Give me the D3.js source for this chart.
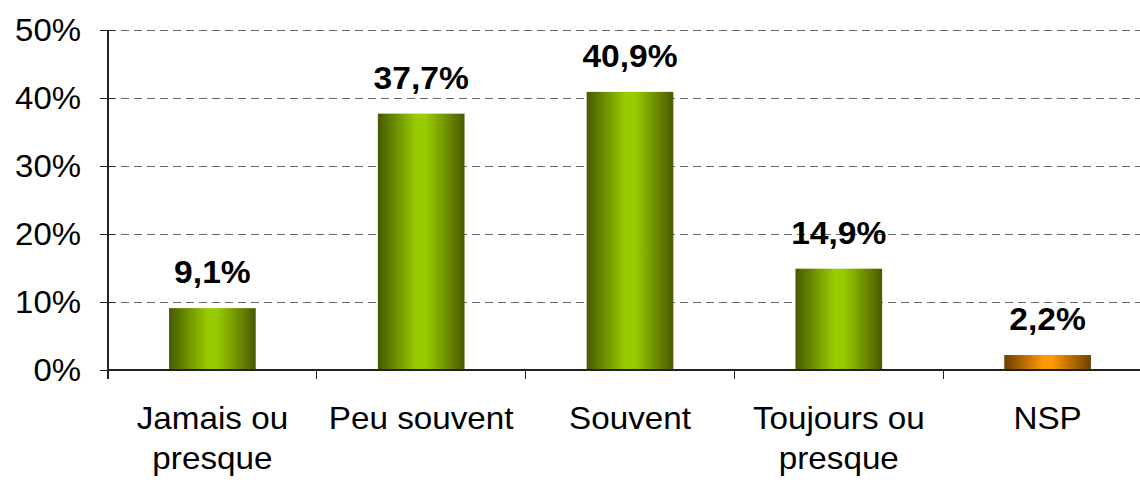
<!DOCTYPE html>
<html><head><meta charset="utf-8">
<script src="https://cdn.jsdelivr.net/npm/d3@7"></script>
<style>body{margin:0;background:#fff;}svg{display:block;font-family:"Liberation Sans",Arial,sans-serif;}</style>
</head><body>
<svg id="c" width="1140" height="482"></svg>
<script>
const categories = [["Jamais ou","presque"],["Peu souvent"],["Souvent"],["Toujours ou","presque"],["NSP"]];
const values = [9.1, 37.7, 40.9, 14.9, 2.2];
const labels = ["9,1%","37,7%","40,9%","14,9%","2,2%"];
const colorKeys = ["green","green","green","green","orange"];
const yTicks = [0,10,20,30,40,50];

const svg = d3.select("#c");
const x0 = 108, bandW = 208.8;
const x = d3.scaleBand().domain(d3.range(categories.length)).range([x0, x0 + bandW*categories.length]).paddingInner(0.585).paddingOuter(0.2925);
const y = d3.scaleLinear().domain([0,50]).range([370,30]);

const defs = svg.append("defs");
const grads = {green:["#465a00","#99cc00","#4a5a00"], orange:["#6a3e00","#ff9900","#6a4200"]};
Object.entries(grads).forEach(([k,c])=>{
  const g = defs.append("linearGradient").attr("id","g-"+k).attr("x1","0").attr("x2","1").attr("y1","0").attr("y2","0");
  g.append("stop").attr("offset","0%").attr("stop-color",c[0]);
  g.append("stop").attr("offset","45%").attr("stop-color",c[1]);
  g.append("stop").attr("offset","55%").attr("stop-color",c[1]);
  g.append("stop").attr("offset","100%").attr("stop-color",c[2]);
});

// gridlines
svg.append("g").selectAll("line").data(yTicks.filter(d=>d>0)).join("line")
  .attr("x1",x0).attr("x2",1140).attr("y1",d=>y(d)).attr("y2",d=>y(d))
  .attr("stroke","#6a6a6a").attr("stroke-width",1).attr("stroke-dasharray","8,5")
  .attr("shape-rendering","crispEdges");

// y axis
const yAxis = d3.axisLeft(y).tickValues(yTicks).tickSize(8).tickFormat(d=>d+"%");
const ya = svg.append("g").attr("transform",`translate(${x0},0)`).call(yAxis);
ya.select(".domain").remove();
ya.selectAll(".tick line").attr("x1",-8).attr("x2",7).attr("stroke","#222").attr("stroke-width",1.3).attr("shape-rendering","crispEdges");
ya.selectAll(".tick text").remove();
ya.selectAll(".tick").append("text")
  .attr("transform","translate(-27,10) scale(1.08,1)")
  .attr("text-anchor","end").attr("font-size",30.5).attr("fill","#000")
  .attr("font-family","Liberation Sans, Arial, sans-serif")
  .text(d=>d+"%");
svg.append("line").attr("x1",x0).attr("x2",x0).attr("y1",30).attr("y2",379).attr("stroke","#222").attr("stroke-width",1.3).attr("shape-rendering","crispEdges");

// bars
svg.append("g").selectAll("rect").data(values).join("rect")
  .attr("x",(d,i)=>x(i)).attr("width",x.bandwidth())
  .attr("y",d=>y(d)).attr("height",d=>y(0)-y(d))
  .attr("fill",(d,i)=>`url(#g-${colorKeys[i]})`);

// x axis baseline and ticks
svg.append("line").attr("x1",x0).attr("x2",1140).attr("y1",y(0)).attr("y2",y(0)).attr("stroke","#222").attr("stroke-width",1.3).attr("shape-rendering","crispEdges");
svg.append("g").selectAll("line").data(d3.range(1,categories.length+1)).join("line")
  .attr("x1",i=>x0+i*bandW).attr("x2",i=>x0+i*bandW).attr("y1",y(0)).attr("y2",y(0)+9)
  .attr("stroke","#222").attr("stroke-width",1.3).attr("shape-rendering","crispEdges");

// value labels
svg.append("g").selectAll("text").data(values).join("text")
  .attr("transform",(d,i)=>`translate(${x(i)+x.bandwidth()/2},${y(d)-25}) scale(1.05,1)`)
  .attr("text-anchor","middle").attr("font-size",32).attr("font-weight","bold").attr("fill","#000")
  .text((d,i)=>labels[i]);

// category labels
const cg = svg.append("g").selectAll("g").data(categories).join("g")
  .attr("transform",(d,i)=>`translate(${x(i)+x.bandwidth()/2},0)`);
cg.each(function(d){
  const g = d3.select(this);
  d.forEach((line,j)=>g.append("text")
    .attr("transform",`translate(0,${429+j*40}) scale(1.09,1)`)
    .attr("text-anchor","middle").attr("font-size",30.5).attr("fill","#000").text(line));
});
</script>
</body></html>
